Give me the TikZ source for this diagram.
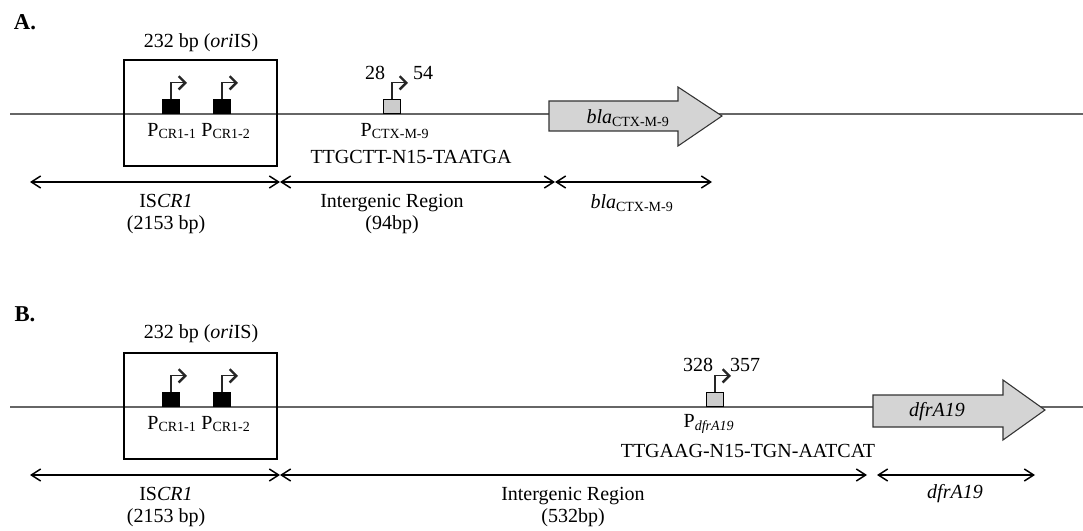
\documentclass[tikz,border=0pt]{standalone}
\usepackage{fontspec}
\setmainfont{Liberation Serif}
\usetikzlibrary{arrows.meta}
\newcommand{\sub}[1]{\textsubscript{#1}}

\begin{document}
\begin{tikzpicture}[x=0.75pt, y=-0.75pt,
  font=\fontsize{15}{17}\selectfont,
  backbone/.style={draw=black!60, line width=1.7pt},
  prom/.style={draw=black, fill=#1, minimum width=13pt, minimum height=11pt,
               inner sep=0pt, anchor=south},
  flag/.style={-{Straight Barb[length=5pt,width=10pt,line width=1.8pt]},
               draw=black!85, line width=0.8pt},
  gene/.style={draw=black!80, fill=black!17, line width=0.8pt},
  dim/.style={{Straight Barb[length=7pt,width=9pt]}-{Straight Barb[length=7pt,width=9pt]},
              line width=1.1pt},
  orbox/.style={draw, line width=0.8pt, minimum width=114.75pt, minimum height=79.5pt},
  panel/.style={font=\bfseries\fontsize{17}{19}\selectfont}
]
  \useasboundingbox (0,0) rectangle (1083,531);

  % ---------------- A. ----------------
  \node[panel] (labA) at (25,22) {A.};
  \draw[backbone] (10,114) -- (1083,114);
  \node[orbox] (oriA) at (200.5,113) {};
  \node (oriTxtA) at (201,43) {232 bp (\textit{ori}IS)};
  % promoters
  \node[prom=black]    (cr1A) at (171,114) {};
  \node[prom=black]    (cr2A) at (222,114) {};
  \node[prom=black!20] (ctx)  at (392,114) {};
  \draw[flag] (cr1A.north) -- ++(0,-16) -- ++(16,0);
  \draw[flag] (cr2A.north) -- ++(0,-16) -- ++(16,0);
  \draw[flag] (ctx.north)  -- ++(0,-16) -- ++(16,0);
  \node (cr1TxtA) at (172,131) {P\sub{CR1-1}};
  \node (cr2TxtA) at (226,131) {P\sub{CR1-2}};
  \node (ctxTxt)  at (395,131) {P\sub{CTX-M-9}};
  \node (ctxSeq)  at (411,157) {TTGCTT-N15-TAATGA};
  \node (ctx28)   at (375,73)  {28};
  \node (ctx54)   at (423,73)  {54};
  % gene
  \draw[gene] (549,101) -- (678,101) -- (678,87) -- (722,116)
              -- (678,146) -- (678,131) -- (549,131) -- cycle;
  \node (blaA) at (628,118) {\textit{bla}\sub{CTX-M-9}};
  % extents
  \coordinate (a1) at (30,182);  \coordinate (a2) at (280,182);
  \coordinate (a3) at (555,182); \coordinate (a4) at (712,182);
  \draw[dim] (a1) -- (a2);
  \draw[dim] (a2) -- (a3);
  \draw[dim] (a3) -- (a4);
  \node[align=center] (iscrA) at (166,214) {IS\textit{CR1}\\(2153 bp)};
  \node[align=center] (igrA)  at (392,214) {Intergenic Region\\(94bp)};
  \node (blaDimA) at (632,203) {\textit{bla}\sub{CTX-M-9}};

  % ---------------- B. ----------------
  \node[panel] (labB) at (25,314) {B.};
  \draw[backbone] (10,407) -- (1083,407);
  \node[orbox] (oriB) at (200.5,406) {};
  \node (oriTxtB) at (201,334) {232 bp (\textit{ori}IS)};
  % promoters
  \node[prom=black]    (cr1B) at (171,407) {};
  \node[prom=black]    (cr2B) at (222,407) {};
  \node[prom=black!20] (dfr)  at (715,407) {};
  \draw[flag] (cr1B.north) -- ++(0,-16) -- ++(16,0);
  \draw[flag] (cr2B.north) -- ++(0,-16) -- ++(16,0);
  \draw[flag] (dfr.north)  -- ++(0,-16) -- ++(16,0);
  \node (cr1TxtB) at (172,424) {P\sub{CR1-1}};
  \node (cr2TxtB) at (226,424) {P\sub{CR1-2}};
  \node (dfrTxt)  at (709,424) {P\sub{\textit{dfrA19}}};
  \node (dfrSeq)  at (748,451) {TTGAAG-N15-TGN-AATCAT};
  \node (dfr328)  at (698,365) {328};
  \node (dfr357)  at (745,365) {357};
  % gene
  \draw[gene] (873,395) -- (1003,395) -- (1003,380) -- (1045,410)
              -- (1003,440) -- (1003,427) -- (873,427) -- cycle;
  \node (dfrB) at (937,412) {\textit{dfrA19}};
  % extents
  \coordinate (b1) at (30,475);  \coordinate (b2) at (280,475);
  \coordinate (b3) at (867,475); \coordinate (b4) at (877,475);
  \coordinate (b5) at (1035,475);
  \draw[dim] (b1) -- (b2);
  \draw[dim] (b2) -- (b3);
  \draw[dim] (b4) -- (b5);
  \node[align=center] (iscrB) at (166,507) {IS\textit{CR1}\\(2153 bp)};
  \node[align=center] (igrB)  at (573,507) {Intergenic Region\\(532bp)};
  \node (dfrDimB) at (955,494) {\textit{dfrA19}};
\end{tikzpicture}
\end{document}
